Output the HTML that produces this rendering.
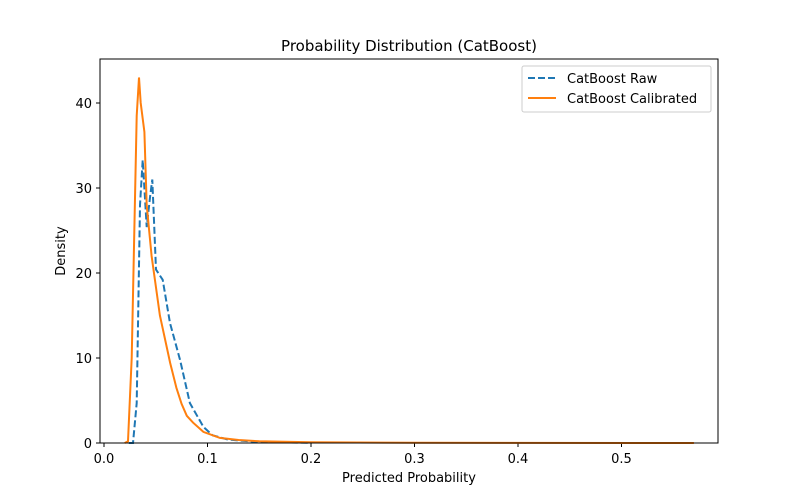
<!DOCTYPE html>
<html><head><meta charset="utf-8">
<style>
body{margin:0;background:#fff;font-family:"Liberation Sans","DejaVu Sans",sans-serif;}
svg text{font-family:"DejaVu Sans","Liberation Sans",sans-serif;}
</style></head>
<body>
<svg id="chart" width="798" height="498">
<text x="409" y="51" font-size="15" text-anchor="middle">Probability Distribution (CatBoost)</text>
<g id="axes"></g>
<g id="lines"></g>
<rect x="100" y="59" width="618" height="384" fill="none" stroke="#000" stroke-width="1"/>
<text x="409" y="482" font-size="13" text-anchor="middle">Predicted Probability</text>
<text transform="translate(65,251) rotate(-90)" font-size="13" text-anchor="middle">Density</text>
<g>
<rect x="522" y="66" width="189" height="46" fill="#fff" stroke="#ccc" rx="2"/>
<line x1="528" y1="78" x2="556" y2="78" stroke="#1f77b4" stroke-width="2" stroke-dasharray="7,3"/>
<text x="567" y="83" font-size="13">CatBoost Raw</text>
<line x1="528" y1="98" x2="556" y2="98" stroke="#ff7f0e" stroke-width="2"/>
<text x="567" y="103" font-size="13">CatBoost Calibrated</text>
</g>
</svg>
<script>
const xTicks=[0.0,0.1,0.2,0.3,0.4,0.5];
const yTicks=[0,10,20,30,40];
const rawX=[0.024,0.028,0.0316,0.0348,0.0374,0.0413,0.0445,0.0467,0.0502,0.0567,0.0638,0.0734,0.083,0.096,0.105,0.12,0.15,0.2];
const rawY=[0,0,4.7,28,33.3,25.4,29,31,20.4,19.2,14.1,9.8,4.7,1.9,0.9,0.4,0.1,0.02];
const calX=[0.020,0.0232,0.0268,0.0316,0.0338,0.0355,0.039,0.0413,0.046,0.054,0.064,0.070,0.075,0.080,0.086,0.096,0.112,0.13,0.15,0.2,0.3,0.4,0.57];
const calY=[0,0.2,10,38.5,43,40,36.6,28,22,15,9.4,6.5,4.6,3.2,2.4,1.3,0.6,0.35,0.2,0.08,0.03,0.01,0];
const NS="http://www.w3.org/2000/svg";
const X=v=>104+v*1035, Y=v=>443-v*8.5;
const ax=document.getElementById('axes');
function mk(t,a,p){const e=document.createElementNS(NS,t);for(const k in a)e.setAttribute(k,a[k]);p.appendChild(e);return e;}
xTicks.forEach(t=>{
 const l=mk('line',{x1:X(t),x2:X(t),y1:443,y2:447,stroke:'#000'},ax);
 
 
 const tx=mk('text',{x:X(t),y:463,'font-size':13,'text-anchor':'middle'},ax);tx.textContent=t.toFixed(1);
 
 
});
yTicks.forEach(t=>{
 const l=mk('line',{x1:96,x2:100,y1:Y(t),y2:Y(t),stroke:'#000'},ax);
 
 
 const tx=mk('text',{x:92,y:Y(t)+5,'font-size':13,'text-anchor':'end'},ax);tx.textContent=t;
 
 
});
const lg=document.getElementById('lines');
function path(xs,ys){return xs.map((x,i)=>(i?'L':'M')+X(x).toFixed(1)+','+Y(ys[i]).toFixed(1)).join('');}
const p1=mk('path',{d:path(rawX,rawY),fill:'none',stroke:'#1f77b4','stroke-width':2,'stroke-dasharray':'7,3'},lg);


const p2=mk('path',{d:path(calX,calY),fill:'none',stroke:'#ff7f0e','stroke-width':2},lg);


</script>
</body></html>
